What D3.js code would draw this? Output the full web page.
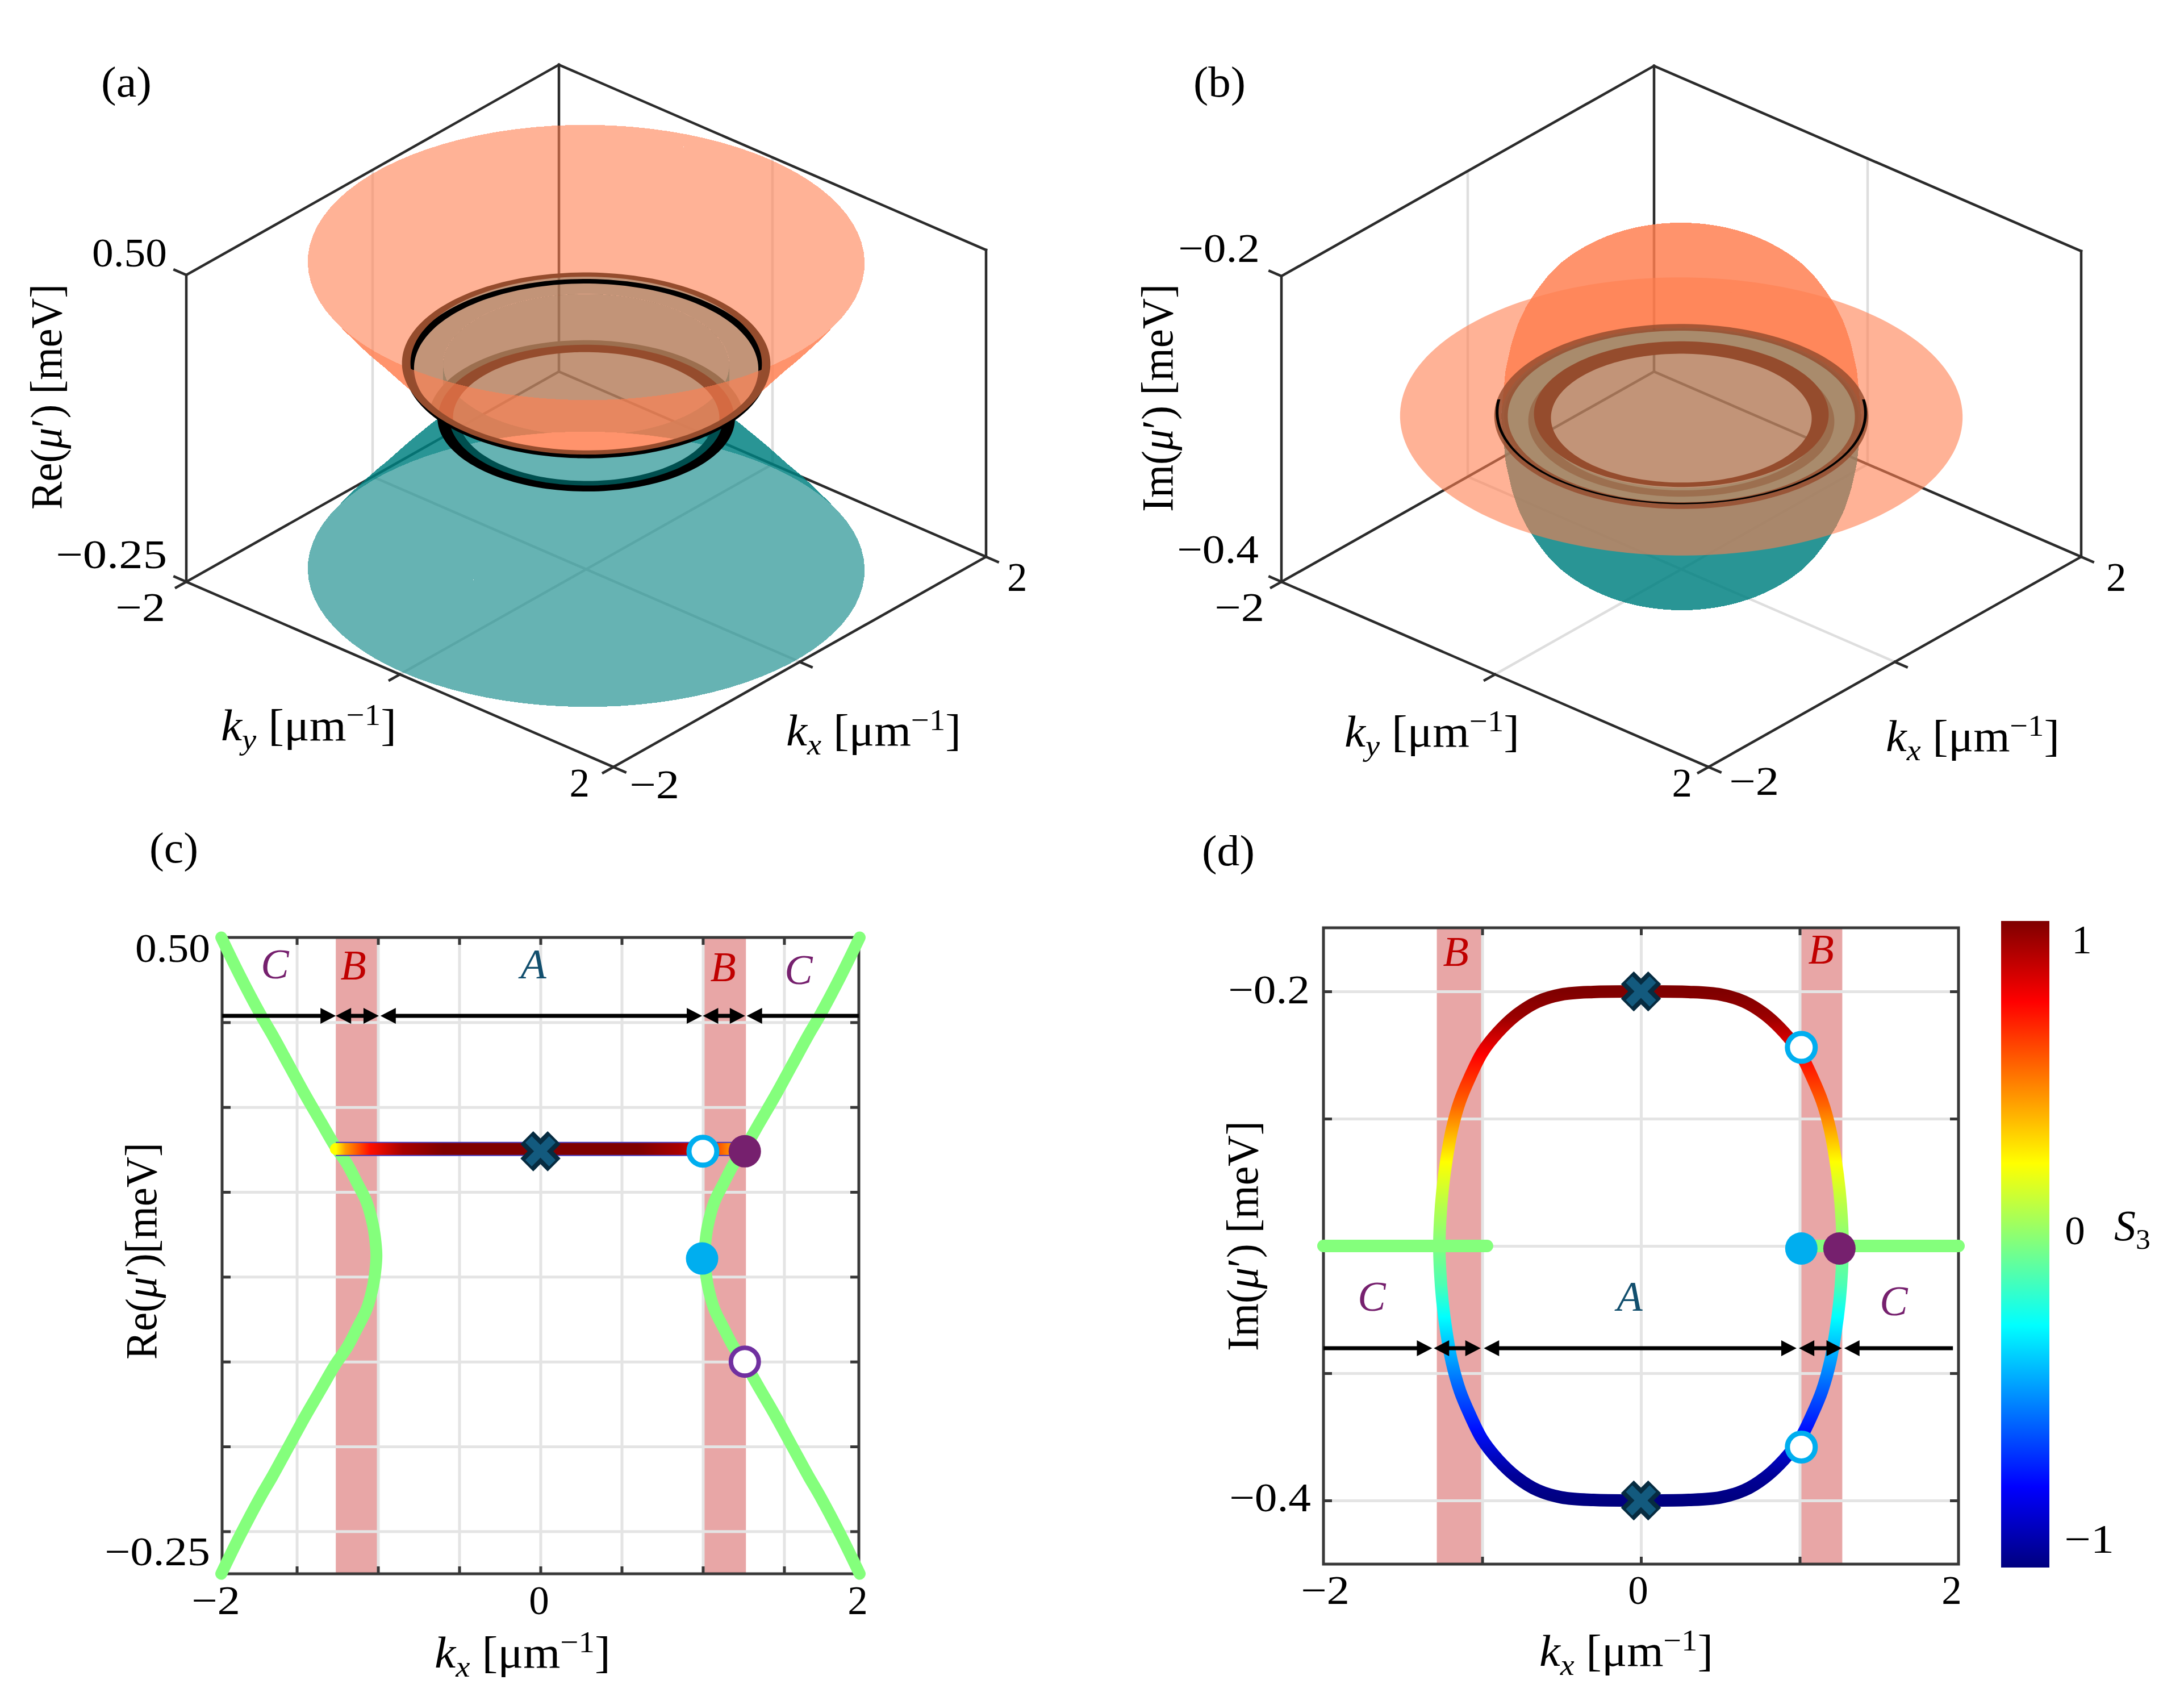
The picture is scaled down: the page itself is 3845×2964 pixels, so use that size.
<!DOCTYPE html>
<html><head><meta charset="utf-8">
<script src="https://cdn.jsdelivr.net/npm/d3@7/dist/d3.min.js"></script>
<style>html,body{margin:0;padding:0;background:#fff;overflow:hidden}svg{display:block}text{font-family:"Liberation Serif",serif;fill:#000}</style>
</head><body><svg id="fig" width="3845" height="2964" viewBox="0 0 3845 2964" xmlns="http://www.w3.org/2000/svg"></svg>
<script>
// ---- data ----
const kRe      = [1.01,1.015,1.03,1.07,1.127,1.19,1.265,1.35,1.45,1.55,1.65,1.72,1.85,1.965];
const reUpper  = [0.125,0.14,0.16,0.188,0.21,0.233,0.254,0.282,0.315,0.35,0.385,0.408,0.455,0.5];
const reLower  = [0.125,0.11,0.09,0.062,0.04,0.017,-0.004,-0.032,-0.065,-0.1,-0.135,-0.158,-0.205,-0.25];
const reFlat   = 0.25;
const kIm      = [0,0.3,0.5,0.65,0.78,0.9,1.0,1.08,1.14,1.19,1.225,1.25,1.265,1.27];
const imUpper  = [-0.2,-0.2002,-0.2012,-0.204,-0.209,-0.216,-0.224,-0.234,-0.243,-0.254,-0.266,-0.278,-0.29,-0.3];
const imLower  = [-0.4,-0.3998,-0.3988,-0.396,-0.391,-0.384,-0.376,-0.366,-0.357,-0.346,-0.334,-0.322,-0.31,-0.3];
const imFlat   = -0.3;
const flatK    = [-1.26,-1.2,-1.05,-0.85,-0.6,0,0.6,0.85,1.0,1.15,1.265];
const flatS3   = [0.25,0.45,0.72,0.92,1,1,1,0.92,0.78,0.5,0.32];
const curveIm  = [-0.2,-0.21,-0.225,-0.245,-0.267,-0.285,-0.3,-0.315,-0.328,-0.355,-0.372,-0.39,-0.4];
const curveS3  = [1,0.95,0.75,0.55,0.25,0.1,0,-0.1,-0.25,-0.55,-0.72,-0.95,-1];
const reTicks  = [0.4,0.3,0.2,0.1,0,-0.1,-0.2];
const imTicks  = [-0.2,-0.25,-0.3,-0.35,-0.4];
const cKTicks  = [-1.5,-1,-0.5,0,0.5,1,1.5];
const dKTicks  = [-1,0,1];
const cBands   = [[-1.26,-1.0],[1.0,1.265]];
const dBands   = [[-1.286,-1.0],[1.0,1.268]];
const cArrows  = [[-1.96,-1.26,0,1],[-1.26,-0.995,1,1],[-0.985,0.995,1,1],[1.0,1.26,1,1],[1.27,1.96,1,0]];
const dArrows  = [[-2,-1.315,0,1],[-1.305,-1.01,1,1],[-0.99,0.98,1,1],[0.995,1.265,1,1],[1.28,1.965,1,0]];
const cMarkers = [{k:1.0,v:0.248,t:"hollowBlue"},{k:1.258,v:0.248,t:"fullPurple"},{k:0.995,v:0.1216,t:"fullBlue"},{k:1.258,v:0.0,t:"hollowPurple"}];
const dMarkers = [{k:1.01,v:-0.222,t:"hollowBlue"},{k:1.01,v:-0.379,t:"hollowBlue"},{k:1.01,v:-0.301,t:"fullBlue"},{k:1.25,v:-0.301,t:"fullPurple"}];
const cCross   = [{k:0,v:0.248}];
const dCross   = [{k:0,v:-0.2},{k:0,v:-0.4}];
const jetDomain= [-1,-0.75,-0.25,0.25,0.75,1];
const jetRange = ["#00007f","#0000ff","#00ffff","#ffff00","#ff0000","#7f0000"];
// --------------------------------------
const svg = d3.select("#fig");
const defs = svg.append("defs");
const CORAL="#ff7f50", TEAL="#008080", GREEN="#84ff7c", BOX="#2b2b2b", GRID="#e4e4e4", AX="#383838", BAND="#e8a6a6", SIENNA="#954c2d";
const jet = d3.scaleLinear().domain(jetDomain).range(jetRange);

function txt(g,x,y,spans,o={}){
  const size=o.size||71;
  const t=g.append("text").attr("font-size",size).attr("text-anchor",o.anchor||"start");
  let prev=0;
  (Array.isArray(spans)?spans:[{t:spans}]).forEach(s=>{
    const off=s.sub?size*0.2:s.sup?-size*0.34:0;
    const ts=t.append("tspan").text(s.t).attr("dy",off-prev);
    if(s.i)ts.attr("font-style","italic");
    if(s.sub||s.sup)ts.attr("font-size",size*0.68);
    prev=off;
  });
  if(o.fill)t.style("fill",o.fill);
  let sx=1;
  if(o.width){sx=o.width/t.node().getComputedTextLength();}
  t.attr("transform",`translate(${x},${y}) rotate(${o.rot||0}) scale(${sx},1)`);
  return t;
}
const kxLabel=[{t:"k",i:1},{t:"x",i:1,sub:1},{t:" [μm"},{t:"−1",sup:1},{t:"]"}];
const kyLabel=[{t:"k",i:1},{t:"y",i:1,sub:1},{t:" [μm"},{t:"−1",sup:1},{t:"]"}];
const muLabel=(p,sp)=>[{t:p+"("},{t:"μ",i:1},{t:"′)"+sp+"[meV]"}];
const LAB=78;

// ---------- 3D helpers ----------
const profileHolder=svg.append("path").attr("fill","none").attr("stroke","none");
function sampleProfile(ks,zs,n){
  const line=d3.line().x((d,i)=>ks[i]*1000).y((d,i)=>zs[i]*1000).curve(d3.curveCatmullRom.alpha(0.5));
  profileHolder.attr("d",line(ks));
  const node=profileHolder.node(),L=node.getTotalLength();
  return d3.range(n+1).map(i=>{const p=node.getPointAtLength(L*i/n);return {k:Math.max(0,p.x/1000),z:p.y/1000};});
}
function panel3D(cx,cy,zDom,zSpan){
  const xKx=d3.scaleLinear([-2,2],[-328,328]), xKy=d3.scaleLinear([-2,2],[-376,376]);
  const yKx=d3.scaleLinear([-2,2],[185,-185]), yKy=d3.scaleLinear([-2,2],[-163,163]);
  const yZ=d3.scaleLinear(zDom,[0,-zSpan]);
  const P=(kx,ky,z)=>[cx+xKx(kx)+xKy(ky), cy+yKx(kx)+yKy(ky)+yZ(z)];
  const thetas=d3.range(0,360,2).map(a=>a*Math.PI/180);
  const closed=d3.line().curve(d3.curveLinearClosed);
  const ring=(k,z)=>closed(thetas.map(t=>P(k*Math.cos(t),k*Math.sin(t),z)));
  return {P,ring,annulus:(a,b,z,z2)=>ring(a,z)+ring(b,z2===undefined?z:z2),cx,cy,yZ};
}
function quads(g,p,rows,color,opacity){
  const n=90, T=d3.range(n+1).map(i=>i/n*2*Math.PI), out=[];
  for(let r=0;r<rows.length-1;r++)for(let j=0;j<n;j++){
    const a=rows[r],b=rows[r+1];
    out.push([p.P(a.k*Math.cos(T[j]),a.k*Math.sin(T[j]),a.z),p.P(a.k*Math.cos(T[j+1]),a.k*Math.sin(T[j+1]),a.z),
              p.P(b.k*Math.cos(T[j+1]),b.k*Math.sin(T[j+1]),b.z),p.P(b.k*Math.cos(T[j]),b.k*Math.sin(T[j]),b.z)]);
  }
  const line=d3.line().curve(d3.curveLinearClosed);
  g.append("g").attr("shape-rendering","crispEdges").selectAll("path").data(out).join("path")
    .attr("d",line).attr("fill",color).attr("fill-opacity",opacity===undefined?0.6:opacity);
}
function box3D(g,p,zLo,zHi){
  const P=p.P, L=d3.line();
  const grid=[[[0,-2,zLo],[0,-2,zHi]],[[2,0,zLo],[2,0,zHi]],[[0,-2,zLo],[0,2,zLo]],[[-2,0,zLo],[2,0,zLo]]];
  g.append("g").selectAll("path").data(grid).join("path").attr("d",d=>L(d.map(a=>P(...a))))
    .attr("fill","none").attr("stroke","#dedede").attr("stroke-width",4.5);
  const edges=[[[-2,-2,zHi],[2,-2,zHi]],[[2,-2,zHi],[2,2,zHi]],[[2,-2,zHi],[2,-2,zLo]],[[2,-2,zLo],[-2,-2,zLo]],[[2,-2,zLo],[2,2,zLo]],
    [[-2,-2,zLo],[-2,-2,zHi]],[[2,2,zLo],[2,2,zHi]],[[-2,-2,zLo],[-2,2,zLo]],[[-2,2,zLo],[2,2,zLo]]];
  const ticks=[[[-2,-2,zHi],[-2,-2.11,zHi]],[[-2,-2,zLo],[-2,-2.11,zLo]],[[-2,-2,zLo],[-2.11,-2,zLo]],[[-2,2,zLo],[-2.11,2,zLo]],[[-2,2,zLo],[-2,2.11,zLo]],
    [[2,2,zLo],[2,2.11,zLo]],[[0,2,zLo],[0,2.11,zLo]],[[-2,0,zLo],[-2.11,0,zLo]]];
  g.append("g").selectAll("path").data(edges.concat(ticks)).join("path").attr("d",d=>L(d.map(a=>P(...a))))
    .attr("fill","none").attr("stroke",BOX).attr("stroke-width",4.5).attr("stroke-linecap","square");
}

// ---------- panel (a) ----------
(function(){
  const g=svg.append("g");
  const p=panel3D(1032,1002,[-0.25,0.5],540);
  box3D(g,p,-0.25,0.5);
  const kBig=1.27,kSmall=kRe[0],kMax=kRe[kRe.length-1];
  const iEP=kRe.findIndex(k=>k>=1.265);
  defs.append("clipPath").attr("id","aFloor").append("path").attr("d",p.ring(kMax,-0.25));
  defs.append("clipPath").attr("id","aBigIn").append("path").attr("d",p.ring(kBig,reFlat));
  defs.append("clipPath").attr("id","aBigOut").append("path").attr("clip-rule","evenodd").attr("d","M0 0H3845V2964H0Z"+p.ring(kBig,reFlat));
  const m=defs.append("mask").attr("id","aMask").attr("maskUnits","userSpaceOnUse").attr("x",0).attr("y",0).attr("width",3845).attr("height",2964);
  m.append("rect").attr("width",3845).attr("height",2964).attr("fill","#fff");
  m.append("path").attr("d",p.ring(kBig,reFlat)).attr("fill","#000").attr("clip-path","url(#aFloor)");
  // teal
  quads(g,p,sampleProfile(kRe,reLower,30),TEAL);
  const tg=g.append("g").attr("mask","url(#aMask)");
  quads(tg,p,[{k:kSmall,z:reUpper[0]},{k:kSmall,z:reFlat}],TEAL);
  tg.append("path").attr("d",p.annulus(kSmall,kBig,reFlat)).attr("fill",TEAL).attr("fill-opacity",0.6).attr("fill-rule","evenodd");
  // black small ring outside the big disc
  const sOut=g.append("g").attr("clip-path","url(#aBigOut)");
  sOut.append("path").attr("d",p.annulus(0.9,0.97,0.12)).attr("fill","#004f4f").attr("fill-rule","evenodd");
  sOut.append("path").attr("d",p.annulus(0.965,1.05,0.12)).attr("fill","#000").attr("fill-rule","evenodd");
  // orange disc
  g.append("path").attr("d",p.ring(kBig,reFlat)).attr("fill",CORAL).attr("fill-opacity",0.6);
  // small brown ring
  const sIn=g.append("g").attr("clip-path","url(#aBigIn)");
  sIn.append("path").attr("d",p.annulus(0.99,1.11,0.12)).attr("fill","#9c6f4f").attr("fill-rule","evenodd");
  sIn.append("path").attr("d",p.annulus(0.94,1.045,0.12)).attr("fill",SIENNA).attr("fill-rule","evenodd");
  // big black ring
  g.append("path").attr("d",p.annulus(1.215,1.28,reFlat-0.0095)).attr("fill","#000").attr("fill-rule","evenodd");
  // orange funnel
  quads(g,p,sampleProfile(kRe.slice(iEP),reUpper.slice(iEP),16),CORAL);
  // big brown ring
  g.append("path").attr("d",p.annulus(1.24,1.3,reFlat+0.003)).attr("fill",SIENNA).attr("fill-rule","evenodd");
  // labels
  txt(g,178,170,"(a)",{size:76,width:89});
  txt(g,294,469,"0.50",{anchor:"end",width:132});
  txt(g,294,1000,"−0.25",{anchor:"end",width:196});
  txt(g,291,1093,"−2",{anchor:"end",width:88});
  txt(g,1038,1402,"2",{anchor:"end"});
  txt(g,1108,1405,"−2",{width:88});
  txt(g,1773,1040,"2");
  txt(g,389,1303,kyLabel,{width:309,size:LAB});
  txt(g,1384,1312,kxLabel,{width:308,size:LAB});
  txt(g,108,897,muLabel("Re"," "),{rot:-90,width:397,size:LAB});
})();

// ---------- panel (b) ----------
(function(){
  const g=svg.append("g");
  const p=panel3D(2960,1002,[-0.4,-0.2],538);
  box3D(g,p,-0.4,-0.2);
  const cy0=p.cy+p.yZ(imFlat);
  quads(g,p,sampleProfile(kIm,imLower,34),TEAL);
  g.append("path").attr("d",p.annulus(1.27,1.985,imFlat)).attr("fill",CORAL).attr("fill-opacity",0.6).attr("fill-rule","evenodd");
  quads(g,p,sampleProfile(kIm,imUpper,34),CORAL);
  // rings
  g.append("path").attr("d",p.annulus(1.02,1.25,imFlat)).attr("fill","#a98b6c").attr("fill-rule","evenodd");
  g.append("path").attr("d",p.annulus(0.99,1.08,imFlat-0.003)).attr("fill","#9c6f4f").attr("fill-rule","evenodd");
  g.append("path").attr("d",p.annulus(0.92,1.04,imFlat-0.0011,imFlat+0.0015)).attr("fill",SIENNA).attr("fill-rule","evenodd");
  g.append("path").attr("d",p.annulus(1.225,1.32,imFlat)).attr("fill",SIENNA).attr("fill-opacity",0.82).attr("fill-rule","evenodd");
  defs.append("clipPath").attr("id","bLow").append("rect").attr("x",2300).attr("y",cy0-30).attr("width",1400).attr("height",400);
  g.append("g").attr("clip-path","url(#bLow)").append("path").attr("d",p.annulus(1.29,1.31,imFlat+0.0026)).attr("fill","#000").attr("fill-rule","evenodd");
  txt(g,2101,170,"(b)",{size:76,width:92});
  txt(g,2218,461,"−0.2",{anchor:"end",width:144});
  txt(g,2216,991,"−0.4",{anchor:"end",width:144});
  txt(g,2226,1093,"−2",{anchor:"end",width:88});
  txt(g,2979,1402,"2",{anchor:"end"});
  txt(g,3044,1399,"−2",{width:88});
  txt(g,3708,1040,"2");
  txt(g,2367,1314,kyLabel,{width:308,size:LAB});
  txt(g,3320,1322,kxLabel,{width:306,size:LAB});
  txt(g,2064,901,muLabel("Im"," "),{rot:-90,width:401,size:LAB});
})();

// ---------- 2D helpers ----------
function frame(g,x,y,xt,yt){
  const [x0,x1]=x.range(),[y0,y1]=y.range();
  const w=x1-x0,h=y0-y1;
  const sty=s=>s.call(a=>a.select(".domain").remove());
  g.append("g").attr("transform",`translate(0,${y0})`).call(d3.axisBottom(x).tickValues(xt).tickSize(-h).tickFormat("")).call(sty)
    .selectAll("line").attr("stroke",GRID).attr("stroke-width",5);
  g.append("g").attr("transform",`translate(${x0},0)`).call(d3.axisLeft(y).tickValues(yt).tickSize(-w).tickFormat("")).call(sty)
    .selectAll("line").attr("stroke",GRID).attr("stroke-width",5);
}
function frameTop(g,x,y,xt,yt){
  const [x0,x1]=x.range(),[y0,y1]=y.range();
  const sty=s=>s.call(a=>a.select(".domain").remove());
  const tick=(ax,tx)=>g.append("g").attr("transform",tx).call(ax).call(sty).selectAll("line").attr("stroke",AX).attr("stroke-width",5);
  tick(d3.axisBottom(x).tickValues(xt).tickSize(-13).tickFormat(""),`translate(0,${y0})`);
  tick(d3.axisTop(x).tickValues(xt).tickSize(-13).tickFormat(""),`translate(0,${y1})`);
  tick(d3.axisLeft(y).tickValues(yt).tickSize(-15).tickFormat(""),`translate(${x0},0)`);
  tick(d3.axisRight(y).tickValues(yt).tickSize(-15).tickFormat(""),`translate(${x1},0)`);
  g.append("rect").attr("x",x0).attr("y",y1).attr("width",x1-x0).attr("height",y0-y1).attr("fill","none").attr("stroke",AX).attr("stroke-width",5);
}
function bands(g,x,y,arr){
  g.selectAll(null).data(arr).join("rect").attr("x",d=>x(d[0])).attr("width",d=>x(d[1])-x(d[0]))
    .attr("y",y.range()[1]).attr("height",y.range()[0]-y.range()[1]).attr("fill",BAND);
}
function arrows(g,x,yPix,arr){
  const head=27,half=14;
  arr.forEach(a=>{
    const xa=x(a[0]),xb=x(a[1]);
    g.append("line").attr("x1",xa+(a[2]?head-2:0)).attr("x2",xb-(a[3]?head-2:0)).attr("y1",yPix).attr("y2",yPix).attr("stroke","#000").attr("stroke-width",7);
    if(a[2])g.append("path").attr("d",d3.line()([[xa,yPix],[xa+head,yPix-half],[xa+head,yPix+half]])+"Z");
    if(a[3])g.append("path").attr("d",d3.line()([[xb,yPix],[xb-head,yPix-half],[xb-head,yPix+half]])+"Z");
  });
}
function markers(g,x,y,arr){
  const st={hollowBlue:["#fff","#00aeef",9,24.5],hollowPurple:["#fff","#7030a0",8,24.5],fullBlue:["#00aeef","none",0,28.5],fullPurple:["#76206e","none",0,28.5]};
  g.selectAll(null).data(arr).join("circle").attr("cx",d=>x(d.k)).attr("cy",d=>y(d.v))
    .attr("r",d=>st[d.t][3]).attr("fill",d=>st[d.t][0]).attr("stroke",d=>st[d.t][1]).attr("stroke-width",d=>st[d.t][2]);
}
function crosses(g,x,y,arr){
  arr.forEach(d=>{
    const cx=x(d.k),cy=y(d.v);
    [[24,32,"#062b40"],[21,16,"#135a7e"]].forEach(s=>{
      [[1,1],[1,-1]].forEach(v=>{
        g.append("line").attr("x1",cx-s[0]*v[0]).attr("y1",cy-s[0]*v[1]).attr("x2",cx+s[0]*v[0]).attr("y2",cy+s[0]*v[1])
          .attr("stroke",s[2]).attr("stroke-width",s[1]);
      });
    });
  });
}
function gradient(id,horizontal,a,b,offs,vals){
  const gr=defs.append("linearGradient").attr("id",id).attr("gradientUnits","userSpaceOnUse");
  if(horizontal)gr.attr("x1",a).attr("x2",b).attr("y1",0).attr("y2",0);else gr.attr("y1",a).attr("y2",b).attr("x1",0).attr("x2",0);
  gr.selectAll("stop").data(offs).join("stop").attr("offset",d=>d).attr("stop-color",(d,i)=>jet(vals[i]));
}

// ---------- panel (c) ----------
(function(){
  const g=svg.append("g");
  const x=d3.scaleLinear([-1.96,1.96],[391,1512]), y=d3.scaleLinear([-0.25,0.5],[2770,1650]);
  bands(g,x,y,cBands);
  frame(g,x,y,cKTicks,reTicks);
  frameTop(g,x,y,cKTicks,reTicks);
  const n=kRe.length;
  const side=s=>{
    const pts=[];
    for(let i=n-1;i>=0;i--)pts.push([s*kRe[i],reUpper[i]]);
    for(let i=1;i<n;i++)pts.push([s*kRe[i],reLower[i]]);
    return pts;
  };
  const line=d3.line().x(d=>x(d[0])).y(d=>y(d[1])).curve(d3.curveCatmullRom.alpha(0.5));
  [1,-1].forEach(s=>g.append("path").attr("d",line(side(s))).attr("fill","none").attr("stroke",GREEN).attr("stroke-width",21).attr("stroke-linecap","round"));
  const xa=x(flatK[0]),xb=x(flatK[flatK.length-1]);
  gradient("cFlat",true,xa,xb,flatK.map(k=>(x(k)-xa)/(xb-xa)),flatS3);
  const fl=[[flatK[0],reFlat],[flatK[flatK.length-1],reFlat]];
  g.append("path").attr("d",d3.line().x(d=>x(d[0])).y(d=>y(d[1])-1)(fl)).attr("stroke","#4a3fc0").attr("stroke-width",25).attr("fill","none");
  g.append("path").attr("d",d3.line().x(d=>x(d[0])).y(d=>y(d[1])-1)(fl)).attr("stroke","url(#cFlat)").attr("stroke-width",21).attr("fill","none").attr("stroke-linecap","round");
  arrows(g,x,1788,cArrows);
  crosses(g,x,y,cCross);
  markers(g,x,y,cMarkers);
  txt(g,484,1722,[{t:"C",i:1}],{anchor:"middle",size:74,fill:"#76206e"});
  txt(g,622,1724,[{t:"B",i:1}],{anchor:"middle",size:74,fill:"#c00000"});
  txt(g,939,1722,[{t:"A",i:1}],{anchor:"middle",size:74,fill:"#124f6e"});
  txt(g,1273,1727,[{t:"B",i:1}],{anchor:"middle",size:74,fill:"#c00000"});
  txt(g,1406,1732,[{t:"C",i:1}],{anchor:"middle",size:74,fill:"#76206e"});
  txt(g,263,1518,"(c)",{size:76,width:86});
  txt(g,370,1693,"0.50",{anchor:"end",width:132});
  txt(g,370,2755,"−0.25",{anchor:"end",width:186});
  txt(g,380,2841,"−2",{anchor:"middle",width:86});
  txt(g,949,2841,"0",{anchor:"middle"});
  txt(g,1510,2841,"2",{anchor:"middle"});
  txt(g,765,2935,kxLabel,{width:310,size:LAB});
  txt(g,275,2393,muLabel("Re",""),{rot:-90,width:382,size:LAB});
})();

// ---------- panel (d) ----------
(function(){
  const g=svg.append("g");
  const x=d3.scaleLinear([-2,2],[2330,3448]), y=d3.scaleLinear([-0.425,-0.175],[2753,1633]);
  bands(g,x,y,dBands);
  frame(g,x,y,dKTicks,imTicks);
  frameTop(g,x,y,dKTicks,imTicks);
  const ya=y(curveIm[0]),yb=y(curveIm[curveIm.length-1]);
  gradient("dCurve",false,ya,yb,curveIm.map(v=>(y(v)-ya)/(yb-ya)),curveS3);
  const n=kIm.length, pts=[];
  for(let i=0;i<n;i++)pts.push([kIm[i],imUpper[i]]);
  for(let i=n-2;i>=0;i--)pts.push([kIm[i],imLower[i]]);
  for(let i=1;i<n;i++)pts.push([-kIm[i],imLower[i]]);
  for(let i=n-2;i>=1;i--)pts.push([-kIm[i],imUpper[i]]);
  const line=d3.line().x(d=>x(d[0])).y(d=>y(d[1])).curve(d3.curveCatmullRomClosed.alpha(0.5));
  g.append("path").attr("d",line(pts)).attr("fill","none").attr("stroke","url(#dCurve)").attr("stroke-width",22);
  const gl=d3.line().x(d=>x(d[0])).y(d=>y(d[1]));
  [[[-2,imFlat],[-0.97,imFlat]],[[1.0,imFlat],[2,imFlat]]].forEach(s=>g.append("path").attr("d",gl(s)).attr("stroke",GREEN).attr("stroke-width",22).attr("stroke-linecap","round").attr("fill","none"));
  arrows(g,x,2373,dArrows);
  crosses(g,x,y,dCross);
  markers(g,x,y,dMarkers);
  txt(g,2563,1700,[{t:"B",i:1}],{anchor:"middle",size:74,fill:"#c00000"});
  txt(g,3206,1696,[{t:"B",i:1}],{anchor:"middle",size:74,fill:"#c00000"});
  txt(g,2415,2307,[{t:"C",i:1}],{anchor:"middle",size:74,fill:"#76206e"});
  txt(g,2869,2307,[{t:"A",i:1}],{anchor:"middle",size:74,fill:"#124f6e"});
  txt(g,3334,2315,[{t:"C",i:1}],{anchor:"middle",size:74,fill:"#76206e"});
  txt(g,2116,1523,"(d)",{size:76,width:93});
  txt(g,2306,1766,"−0.2",{anchor:"end",width:144});
  txt(g,2308,2660,"−0.4",{anchor:"end",width:144});
  txt(g,2333,2823,"−2",{anchor:"middle",width:86});
  txt(g,2884,2823,"0",{anchor:"middle"});
  txt(g,3436,2823,"2",{anchor:"middle"});
  txt(g,2710,2932,kxLabel,{width:306,size:LAB});
  txt(g,2214,2378,muLabel("Im"," "),{rot:-90,width:405,size:LAB});
  // colour bar
  const cb=d3.scaleLinear([-1,1],[2759,1621]);
  const gb=defs.append("linearGradient").attr("id","cbar").attr("x1",0).attr("x2",0).attr("y1",1).attr("y2",0);
  gb.selectAll("stop").data(jetDomain).join("stop").attr("offset",d=>(d+1)/2).attr("stop-color",d=>jet(d));
  g.append("rect").attr("x",3523).attr("width",85).attr("y",cb(1)).attr("height",cb(-1)-cb(1)).attr("fill","url(#cbar)");
  txt(g,3665,1678,"1",{anchor:"middle"});
  txt(g,3653,2190,"0",{anchor:"middle"});
  txt(g,3678,2733,"−1",{anchor:"middle",width:88});
  txt(g,3722,2183,[{t:"S",i:1},{t:"3",sub:1}],{size:76});
})();
profileHolder.remove();
</script></body></html>
